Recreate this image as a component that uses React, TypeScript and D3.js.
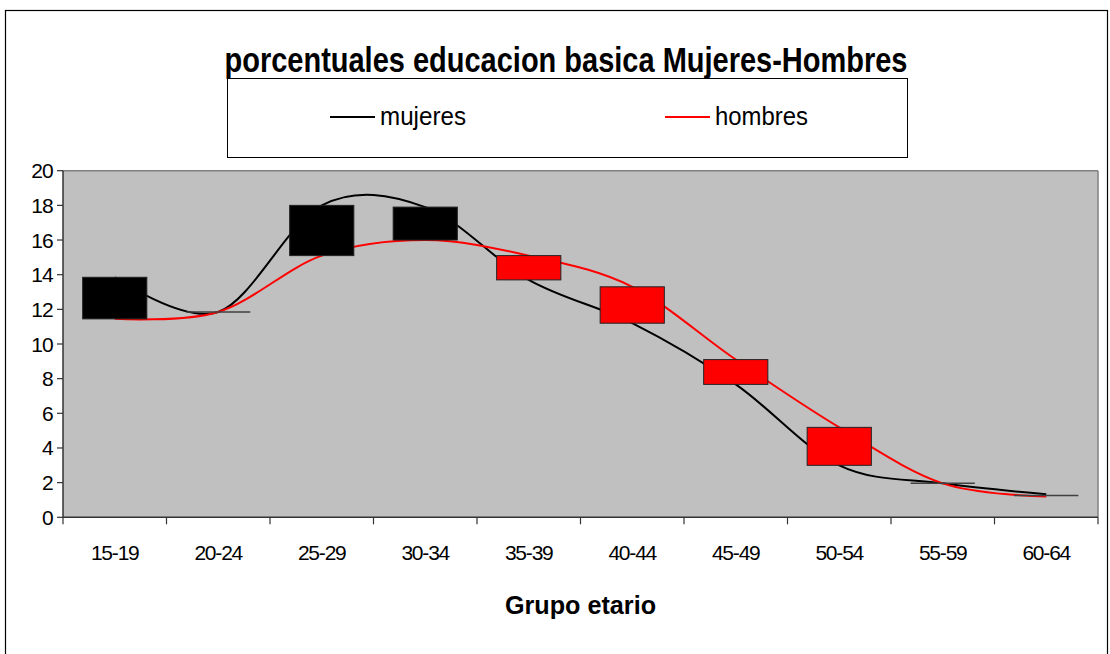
import React from "react";
import * as d3 from "d3";

const categories = ["15-19", "20-24", "25-29", "30-34", "35-39", "40-44", "45-49", "50-54", "55-59", "60-64"];
const mujeres = [13.85, 11.85, 18.0, 17.9, 13.7, 11.2, 7.67, 3.0, 1.96, 1.33];
const hombres = [11.45, 11.85, 15.1, 16.0, 15.1, 13.3, 9.1, 5.19, 1.96, 1.2];
const yTicks = [0, 2, 4, 6, 8, 10, 12, 14, 16, 18, 20];

const W = 1110;
const H = 654;
const plot = { left: 63, right: 1098, top: 170.7, bottom: 517.3 };
const FONT = "'Liberation Sans', Arial, sans-serif";

export default function App() {
  const x = d3.scaleBand<string>().domain(categories).range([plot.left, plot.right]).padding(0);
  const bw = x.bandwidth();
  const cx = (i: number) => (x(categories[i]) as number) + bw / 2;
  const y = d3.scaleLinear().domain([0, 20]).range([plot.bottom, plot.top]);

  const line = d3
    .line<number>()
    .x((_, i) => cx(i))
    .y((v) => y(v))
    .curve(d3.curveCardinal.tension(0));

  const barW = bw * 0.62;
  const boundaries = [...categories.map((c) => x(c) as number), plot.right];

  return (
    <svg width={W} height={H} style={{ position: "absolute", left: 0, top: 0, background: "#fff" }} fontFamily={FONT}>
      <rect x={0} y={0} width={W} height={H} fill="#fff" />
      {/* outer chart border */}
      <rect x={5.5} y={10.5} width={1102} height={700} fill="none" stroke="#000" strokeWidth={1.2} />

      {/* title */}
      <text x={566} y={72} textAnchor="middle" fontSize={35} fontWeight="bold" textLength={683} lengthAdjust="spacingAndGlyphs" fill="#000">
        porcentuales educacion basica Mujeres-Hombres
      </text>

      {/* legend */}
      <rect x={227.5} y={78.5} width={680} height={79} fill="#fff" stroke="#000" strokeWidth={1} />
      <line x1={330} x2={375} y1={117} y2={117} stroke="#000" strokeWidth={2} />
      <text x={380} y={125} fontSize={25} textLength={86} lengthAdjust="spacingAndGlyphs">mujeres</text>
      <line x1={665} x2={710} y1={117} y2={117} stroke="#ff0000" strokeWidth={2} />
      <text x={715} y={125} fontSize={25} textLength={93} lengthAdjust="spacingAndGlyphs">hombres</text>

      {/* plot area */}
      <rect x={plot.left} y={plot.top} width={plot.right - plot.left} height={plot.bottom - plot.top} fill="#c0c0c0" />
      <line x1={plot.left} x2={plot.right} y1={plot.top} y2={plot.top} stroke="#808080" strokeWidth={1.5} />
      <line x1={plot.right} x2={plot.right} y1={plot.top} y2={plot.bottom} stroke="#808080" strokeWidth={1.5} />

      {/* lines */}
      <path d={line(mujeres) || ""} fill="none" stroke="#000" strokeWidth={2} />
      <path d={line(hombres) || ""} fill="none" stroke="#ff0000" strokeWidth={2} />

      {/* up-down bars */}
      {categories.map((c, i) => {
        const y1 = y(mujeres[i]);
        const y2 = y(hombres[i]);
        const top = Math.min(y1, y2);
        const h = Math.abs(y1 - y2);
        const left = cx(i) - barW / 2;
        if (h < 3) {
          return <line key={c} x1={left} x2={left + barW} y1={(y1 + y2) / 2} y2={(y1 + y2) / 2} stroke="#404040" strokeWidth={1.5} />;
        }
        const down = mujeres[i] > hombres[i];
        return <rect key={c} x={left} y={top} width={barW} height={h} fill={down ? "#000" : "#ff0000"} stroke="#222" strokeWidth={1} />;
      })}

      {/* y axis */}
      <line x1={plot.left} x2={plot.left} y1={plot.top} y2={plot.bottom} stroke="#333" strokeWidth={1.5} />
      {yTicks.map((t) => (
        <g key={t}>
          <line x1={plot.left - 6} x2={plot.left} y1={y(t)} y2={y(t)} stroke="#333" strokeWidth={1.2} />
          <text x={53} y={y(t) + 7.5} textAnchor="end" fontSize={21} letterSpacing={-0.8}>{t}</text>
        </g>
      ))}

      {/* x axis */}
      <line x1={plot.left} x2={plot.right} y1={plot.bottom} y2={plot.bottom} stroke="#333" strokeWidth={1.5} />
      {boundaries.map((b, i) => (
        <line key={i} x1={b} x2={b} y1={plot.bottom} y2={plot.bottom + 7} stroke="#333" strokeWidth={1.2} />
      ))}
      {categories.map((c, i) => (
        <text key={c} x={cx(i)} y={560} textAnchor="middle" fontSize={21} letterSpacing={-1.2}>{c}</text>
      ))}
      <text x={(plot.left + plot.right) / 2} y={614} textAnchor="middle" fontSize={25} fontWeight="bold" textLength={151} lengthAdjust="spacingAndGlyphs">
        Grupo etario
      </text>
    </svg>
  );
}
